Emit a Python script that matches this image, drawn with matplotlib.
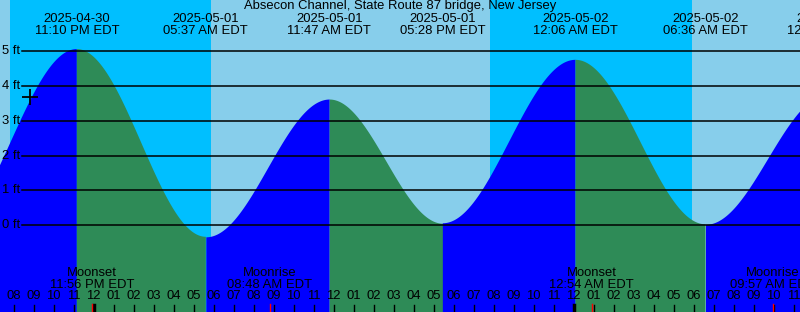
import numpy as np
import pandas as pd
import matplotlib.pyplot as plt

# tide extremes (EDT) and heights in feet
tide_stamps = ['2025-04-30 16:32', '2025-04-30 23:10', '2025-05-01 05:37', '2025-05-01 11:47',
               '2025-05-01 17:28', '2025-05-02 00:06', '2025-05-02 06:36', '2025-05-02 12:48']
tide_feet = [-0.30, 5.07, -0.34, 3.63, 0.05, 4.76, 0.02, 3.80]

# sunset / sunrise pairs (night bands)
night_start = ['2025-04-30 19:50', '2025-05-01 19:50']
night_end = ['2025-05-01 05:53', '2025-05-02 05:56']

moon_events = ['Moonset', 'Moonrise', 'Moonset', 'Moonrise']
moon_stamps = ['2025-04-30 23:56', '2025-05-01 08:48', '2025-05-02 00:54', '2025-05-02 09:57']

levels = [0, 1, 2, 3, 4, 5]
title = 'Absecon Channel, State Route 87 bridge, New Jersey'
now_stamp, now_feet = '2025-04-30 20:50', 3.69

base = pd.Timestamp('2025-04-30 00:00')


def hrs(s):
    return (pd.Timestamp(s) - base) / pd.Timedelta(hours=1)


t_ext = np.array([hrs(s) for s in tide_stamps])
h_ext = np.array(tide_feet)

plt.rcParams['font.family'] = ['Liberation Sans', 'DejaVu Sans']
fs = 9.4

fig = plt.figure(figsize=(8, 3.12), dpi=100)
ax = fig.add_axes([0, 0, 1, 1])
x0, x1 = 19.325, 59.325
ax.set_xlim(x0, x1)
ax.set_ylim(-2.507, 6.484)
ax.axis('off')

# day / night background
ax.axvspan(x0 - 5, x1 + 5, color='#87ceeb', zorder=0)
for a, b in zip(night_start, night_end):
    ax.axvspan(hrs(a), hrs(b), color='#00bfff', zorder=0, lw=0)

# tide curve, half-cosine between extremes
for i in range(len(t_ext) - 1):
    tt = np.linspace(t_ext[i], t_ext[i + 1], 200)
    f = (1 - np.cos(np.pi * (tt - t_ext[i]) / (t_ext[i + 1] - t_ext[i]))) / 2
    hh = h_ext[i] + (h_ext[i + 1] - h_ext[i]) * f
    col = '#0000ff' if h_ext[i + 1] > h_ext[i] else '#2e8b57'
    ax.fill_between(tt, hh, -5, color=col, lw=0, zorder=1)

# level lines
for lv in levels:
    ax.axhline(lv, xmin=22 / 800, xmax=1, color='black', lw=1.1, zorder=3)
    ax.text(0.003, lv, '%d ft' % lv, transform=ax.get_yaxis_transform(),
            ha='left', va='center', fontsize=fs, zorder=4)

ax.plot(hrs(now_stamp), now_feet, marker='+', color='black', ms=12, mew=1.3, zorder=5)

# extreme labels on top (only those inside the window)
xt = ax.get_xaxis_transform()
for s in tide_stamps:
    ts = pd.Timestamp(s)
    x = hrs(s)
    if x < x0:
        continue
    ax.text(x, 0.939, ts.strftime('%Y-%m-%d'), transform=xt,
            ha='center', va='center', fontsize=fs, zorder=4)
    ax.text(x, 0.901, ts.strftime('%I:%M %p EDT'), transform=xt,
            ha='center', va='center', fontsize=fs, zorder=4)

ax.text(0.5, 0.981, title, transform=ax.transAxes, ha='center', va='center',
        fontsize=fs, zorder=4)

# hour ticks
for h in range(20, 60):
    lbl = '%02d' % (((h - 1) % 12) + 1)
    ax.text(h, 0.051, lbl, transform=xt, ha='center', va='center', fontsize=fs, zorder=4)
    lw = 2.5 if h % 24 == 0 else 1
    ax.plot([h, h], [0, 0.0224], transform=xt, color='black', lw=lw, zorder=4)

# moon events
for name, s in zip(moon_events, moon_stamps):
    x = hrs(s)
    ts = pd.Timestamp(s)
    ax.text(x, 0.125, name, transform=xt, ha='center', va='center', fontsize=fs, zorder=4)
    ax.text(x, 0.087, ts.strftime('%I:%M %p EDT'), transform=xt, ha='center', va='center',
            fontsize=fs, zorder=4)
    ax.plot([x, x], [0, 0.026], transform=xt, color='red', lw=1, zorder=4)

fig.savefig('out.png', dpi=100)
